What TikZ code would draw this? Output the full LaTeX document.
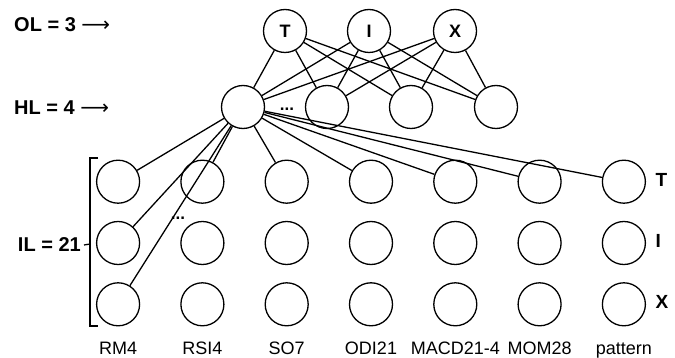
\documentclass[tikz,border=0pt]{standalone}
\usepackage{fontspec}
\setmainfont{Liberation Sans}
\newfontfamily\arrowfont{DejaVu Sans}
\usetikzlibrary{positioning}
\usetikzlibrary{matrix}

\begin{document}
\begin{tikzpicture}[x=1pt,y=-1pt]

\tikzset{neuron/.style={
		circle, draw,
		line width=1.3pt,
		minimum size=43pt,
		anchor=center,
		inner sep=0pt,
		font=\fontsize{18}{20}\selectfont\bfseries
	},
	link/.style={line width=1.3pt},
	layer label/.style={anchor=west, inner sep=0pt,
		font=\fontsize{20}{22}\selectfont\bfseries},
	feature/.style={font=\fontsize{18}{20}\selectfont,
		text height=13pt, text depth=4pt},
	dots/.style={font=\fontsize{17}{17}\selectfont\bfseries, inner sep=0pt}
}

\useasboundingbox (0,0) rectangle (675,358);

% output and hidden layers
\node[neuron] (oT) at (285,31) {T};
\node[neuron] (oI) at (369,31) {I};
\node[neuron] (oX) at (455,31) {X};

\node[neuron] (h1) at (243,107) {};
\node[neuron] (h2) at (327,107) {};
\node[neuron] (h3) at (411,107) {};
\node[neuron] (h4) at (496,107) {};

% input layer
\matrix[matrix of nodes, nodes in empty cells,
	column sep=40pt, row sep=17pt,
	nodes={neuron}] (in) at (371,243)
{
	 & & & & & & \\
	 & & & & & & \\
	 & & & & & & \\
};

\foreach \o in {oT,oI,oX}
	\foreach \h in {h1,h2,h3,h4}
		\draw[link] (\o) -- (\h);
\foreach \c in {1,...,7}
	\draw[link] (h1) -- (in-1-\c);
\draw[link] (h1) -- (in-2-1);
\draw[link] (h1) -- (in-3-1);

\node[dots] (hdots) at (287,109) {...};
\node[dots] (idots) at (178,218) {...};

% layer sizes
\node[layer label] (ol) at (14,25) {OL = 3 {\arrowfont\mdseries ⟶}};
\node[layer label] (hl) at (14,108) {HL = 4 {\arrowfont\mdseries ⟶}};
\node[layer label, anchor=east] (il) at (81,245) {IL = 21};

\coordinate (brtop) at (90,158);
\coordinate (brmid) at (90,244);
\coordinate (brbot) at (90,326);
\draw[line width=1.8pt] ([xshift=8pt]brtop) -- (brtop) -- (brbot) -- ([xshift=8pt]brbot);
\draw[link] (il.east) ++(3pt,0) -- (brmid);

% feature names
\node[feature, below=12pt of in-3-1] (rm) {RM4};
\node[feature, below=12pt of in-3-2] (rsi) {RSI4};
\node[feature, below=12pt of in-3-3] (so) {SO7};
\node[feature, below=12pt of in-3-4] (odi) {ODI21};
\node[feature, below=12pt of in-3-5] (macd) {MACD21-4};
\node[feature, below=12pt of in-3-6] (mom) {MOM28};
\node[feature, below=12pt of in-3-7] (pat) {pattern};

\node[feature, font=\fontsize{19}{20}\selectfont\bfseries, right=6pt of in-1-7] (rT) {T};
\node[feature, font=\fontsize{19}{20}\selectfont\bfseries, right=6pt of in-2-7] (rI) {I};
\node[feature, font=\fontsize{19}{20}\selectfont\bfseries, right=6pt of in-3-7] (rX) {X};

\end{tikzpicture}
\end{document}
